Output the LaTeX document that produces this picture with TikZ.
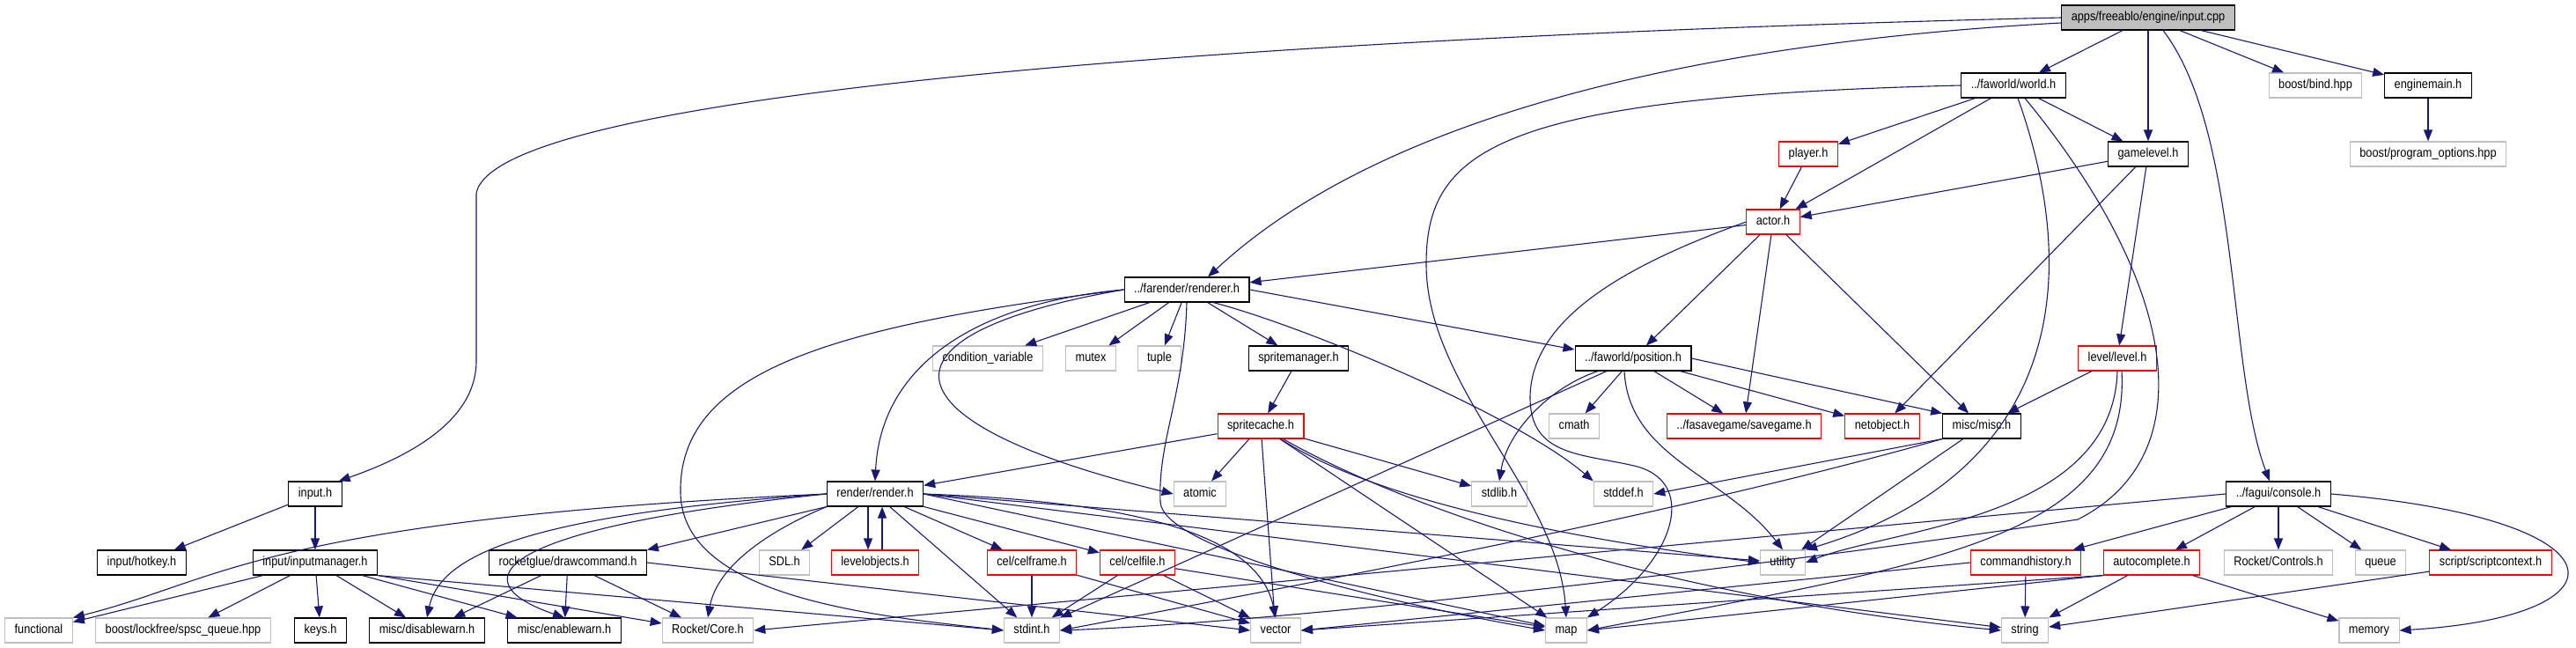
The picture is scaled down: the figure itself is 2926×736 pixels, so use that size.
\documentclass[tikz,border=0pt]{standalone}
\usepackage{fontspec}
\setmainfont{Liberation Sans}[FakeStretch=0.88]
\usetikzlibrary{arrows.meta}
\definecolor{edgeblue}{HTML}{191970}
\definecolor{boxgray}{HTML}{BFBFBF}
\definecolor{boxred}{HTML}{FF0000}

\begin{document}
\begin{tikzpicture}[x=1pt,y=-1pt,
  file/.style={rectangle, minimum height=28pt, inner xsep=11pt, inner ysep=0pt,
    text height=10.3pt, text depth=3pt, font=\fontsize{14.5}{16}\selectfont, line width=1.1pt},
  blackbox/.style={file, draw=black},
  graybox/.style={file, draw=boxgray},
  redbox/.style={file, draw=boxred},
  rootbox/.style={file, draw=black, fill=boxgray},
  dep/.style={draw=edgeblue, line width=1.1pt, -{Triangle[length=13pt,width=10pt]}}]
\useasboundingbox (0,0) rectangle (2926,736);

\node[rootbox] (root) at (2440,20) {apps/freeablo/engine/input.cpp};
\node[blackbox] (world) at (2287,97) {../faworld/world.h};
\node[graybox] (bind) at (2630,97) {boost/bind.hpp};
\node[blackbox] (enginemain) at (2758,97) {enginemain.h};
\node[redbox] (player) at (2054,175) {player.h};
\node[blackbox] (gamelevel) at (2440,175) {gamelevel.h};
\node[graybox] (progopts) at (2758,175) {boost/program\_options.hpp};
\node[redbox] (actor) at (2014,252) {actor.h};
\node[blackbox] (renderer) at (1348,329) {../farender/renderer.h};
\node[graybox] (condvar) at (1122,407) {condition\_variable};
\node[graybox] (mutex) at (1239,407) {mutex};
\node[graybox] (tuple) at (1317,407) {tuple};
\node[blackbox] (spritemgr) at (1475,407) {spritemanager.h};
\node[blackbox] (position) at (1855,407) {../faworld/position.h};
\node[redbox] (level) at (2405,407) {level/level.h};
\node[redbox] (spritecache) at (1432,484) {spritecache.h};
\node[graybox] (cmath) at (1788,484) {cmath};
\node[redbox] (savegame) at (1981,484) {../fasavegame/savegame.h};
\node[redbox] (netobject) at (2138,484) {netobject.h};
\node[blackbox] (misc) at (2251,484) {misc/misc.h};
\node[blackbox] (inputh) at (358,561) {input.h};
\node[blackbox] (render) at (994,561) {render/render.h};
\node[graybox] (atomic) at (1363,561) {atomic};
\node[graybox] (stdlib) at (1703,561) {stdlib.h};
\node[graybox] (stddef) at (1844,561) {stddef.h};
\node[blackbox] (console) at (2588,561) {../fagui/console.h};
\node[blackbox] (hotkey) at (161,639) {input/hotkey.h};
\node[blackbox] (inputmgr) at (358,639) {input/inputmanager.h};
\node[blackbox] (drawcmd) at (645,639) {rocketglue/drawcommand.h};
\node[graybox] (sdl) at (891,639) {SDL.h};
\node[redbox] (levelobj) at (994,639) {levelobjects.h};
\node[redbox] (celframe) at (1172,639) {cel/celframe.h};
\node[redbox] (celfile) at (1292,639) {cel/celfile.h};
\node[graybox] (utility) at (2025,639) {utility};
\node[redbox] (cmdhist) at (2301,639) {commandhistory.h};
\node[redbox] (autocomp) at (2444,639) {autocomplete.h};
\node[graybox] (rocketctl) at (2588,639) {Rocket/Controls.h};
\node[graybox] (queue) at (2704,639) {queue};
\node[redbox] (scriptctx) at (2829,639) {script/scriptcontext.h};
\node[graybox] (functional) at (44,716) {functional};
\node[graybox] (spsc) at (208,716) {boost/lockfree/spsc\_queue.hpp};
\node[blackbox] (keys) at (364,716) {keys.h};
\node[blackbox] (disablewarn) at (485,716) {misc/disablewarn.h};
\node[blackbox] (enablewarn) at (641,716) {misc/enablewarn.h};
\node[graybox] (rocketcore) at (804,716) {Rocket/Core.h};
\node[graybox] (stdint) at (1172,716) {stdint.h};
\node[graybox] (vector) at (1449,716) {vector};
\node[graybox] (map) at (1779,716) {map};
\node[graybox] (string) at (2300,716) {string};
\node[graybox] (memory) at (2691,716) {memory};

\draw[dep] (root.west) .. controls (1500,40) and (560,100) .. (541,220) -- (541,410) .. controls (541,480) and (460,520) .. ([xshift=-4pt]inputh.north east);
\draw[dep] ([yshift=-6pt]root.west) .. controls (1900,50) and (1560,140) .. ([xshift=24pt]renderer.north);
\draw[dep] (root) -- (world);
\draw[dep] (root) -- (gamelevel);
\draw[dep] ([xshift=17pt]root.south) .. controls (2545,150) and (2530,420) .. ([xshift=-10pt]console.north);
\draw[dep] (root) -- (bind);
\draw[dep] (root) -- (enginemain);
\draw[dep] (enginemain) -- (progopts);

\draw[dep] (world) -- (player);
\draw[dep] (world) -- (actor);
\draw[dep] (world) -- (gamelevel);
\draw[dep] (world.west) .. controls (1700,110) and (1620,170) .. (1620,300) .. controls (1620,440) and (1770,560) .. (map.north);
\draw[dep] ([xshift=5pt]world.south) .. controls (2370,330) and (2330,540) .. (utility.north east);
\draw[dep] ([xshift=13pt]world.south) .. controls (2480,330) and (2500,520) .. (2360,590) .. controls (2100,630) and (1500,705) .. (stdint.east);
\draw[dep] (player) -- (actor);
\draw[dep] (gamelevel) -- (actor);
\draw[dep] (gamelevel) -- (netobject);
\draw[dep] (gamelevel) -- (level);

\draw[dep] (actor) -- (renderer);
\draw[dep] (actor) -- (position);
\draw[dep] (actor) -- (savegame);
\draw[dep] (actor) -- (misc);
\draw[dep] (actor.west) .. controls (1850,300) and (1740,360) .. (1738,450) .. controls (1737,520) and (1800,515) .. (1860,530) .. controls (1930,550) and (1900,640) .. (map.north east);

\draw[dep] (renderer.west) .. controls (950,370) and (770,420) .. (773,560) .. controls (775,680) and (1000,700) .. (stdint.west);
\draw[dep] (renderer.west) .. controls (1100,345) and (1000,420) .. (render.north);
\draw[dep] (renderer.west) .. controls (980,380) and (1000,480) .. (atomic.west);
\draw[dep] (renderer) -- (condvar);
\draw[dep] (renderer) -- (mutex);
\draw[dep] (renderer) -- (tuple);
\draw[dep] (renderer) -- (spritemgr);
\draw[dep] (renderer.south) .. controls (1345,450) and (1315,500) .. (1318,570) .. controls (1320,620) and (1550,680) .. (map.west);
\draw[dep] ([xshift=30pt]renderer.south) .. controls (1480,370) and (1720,470) .. (stddef.north west);
\draw[dep] (renderer.east) -- ([yshift=10pt]position.west);
\draw[dep] (spritemgr) -- (spritecache);

\draw[dep] (spritecache) -- (render);
\draw[dep] (spritecache) -- (atomic);
\draw[dep] (spritecache) -- (stdlib);
\draw[dep] (spritecache) -- (vector);
\draw[dep] (spritecache) -- (map);
\draw[dep] (spritecache) .. controls (1580,580) and (1850,620) .. (utility.west);
\draw[dep] (spritecache) .. controls (1600,580) and (1900,680) .. (string.west);

\draw[dep] (position) -- (cmath);
\draw[dep] (position) -- (savegame);
\draw[dep] (position) -- (netobject);
\draw[dep] (position.east) -- (misc.north west);
\draw[dep] ([xshift=-40pt]position.south) .. controls (1760,440) and (1712,490) .. (stdlib.north);
\draw[dep] ([xshift=-30pt]position.south) -- (stdint);
\draw[dep] ([xshift=-10pt]position.south) .. controls (1850,520) and (1960,540) .. (utility.north);

\draw[dep] (level) -- (misc);
\draw[dep] (level.south) .. controls (2400,590) and (2150,600) .. (utility.east);
\draw[dep] ([xshift=5pt]level.south) .. controls (2420,610) and (2200,640) .. (map.east);
\draw[dep] (misc.south west) -- (stddef.east);
\draw[dep] (misc.south west) .. controls (1900,585) and (1500,660) .. (stdint.east);
\draw[dep] (misc) -- (utility);

\draw[dep] (inputh) -- (hotkey);
\draw[dep] (inputh) -- (inputmgr);
\draw[dep] (inputmgr) -- (functional);
\draw[dep] (inputmgr) -- (spsc);
\draw[dep] (inputmgr) -- (keys);
\draw[dep] (inputmgr) -- (disablewarn);
\draw[dep] (inputmgr) -- (enablewarn);
\draw[dep] (inputmgr.south east) -- ([yshift=8pt]rocketcore.west);
\draw[dep] (inputmgr.south east) -- (stdint.west);
\draw[dep] (drawcmd) -- (disablewarn);
\draw[dep] (drawcmd) -- (enablewarn);
\draw[dep] (drawcmd) -- (rocketcore);
\draw[dep] (drawcmd.east) -- (vector.west);

\draw[dep] (render.west) .. controls (300,590) and (250,660) .. (functional.north east);
\draw[dep] (render.west) .. controls (600,585) and (500,630) .. (disablewarn.north);
\draw[dep] (render.west) .. controls (560,600) and (520,660) .. (enablewarn.north);
\draw[dep] (render.south west) -- (drawcmd.north east);
\draw[dep] (render.south west) .. controls (880,600) and (815,640) .. (rocketcore.north);
\draw[dep] (render) -- (sdl);
\draw[dep] ([xshift=-8pt]render.south) -- ([xshift=-8pt]levelobj.north);
\draw[dep] ([xshift=8pt]levelobj.north) -- ([xshift=8pt]render.south);
\draw[dep] (render) -- (stdint);
\draw[dep] (render) -- (celframe);
\draw[dep] (render) -- (celfile);
\draw[dep] (render.east) .. controls (1300,570) and (1430,610) .. (vector.north);
\draw[dep] (render.east) -- (utility);
\draw[dep] (render.east) -- (map);
\draw[dep] (render.east) -- (string);
\draw[dep] (celframe) -- (stdint);
\draw[dep] (celframe) -- (vector);
\draw[dep] (celfile) -- (stdint);
\draw[dep] (celfile) -- (vector);
\draw[dep] (celfile) -- (map);

\draw[dep] (console) -- (cmdhist);
\draw[dep] (console) -- (autocomp);
\draw[dep] (console) -- (rocketctl);
\draw[dep] (console) -- (queue);
\draw[dep] (console) -- (scriptctx);
\draw[dep] (console.east) .. controls (2990,590) and (2990,700) .. (memory.east);
\draw[dep] (console.west) -- (rocketcore.east);
\draw[dep] (cmdhist) -- (string);
\draw[dep] (cmdhist.west) -- (vector.east);
\draw[dep] (autocomp) -- (string);
\draw[dep] (autocomp) -- (memory);
\draw[dep] (autocomp.south west) -- (vector.east);
\draw[dep] (autocomp.south west) -- (map.east);
\draw[dep] (scriptctx) -- (string);
\end{tikzpicture}
\end{document}
